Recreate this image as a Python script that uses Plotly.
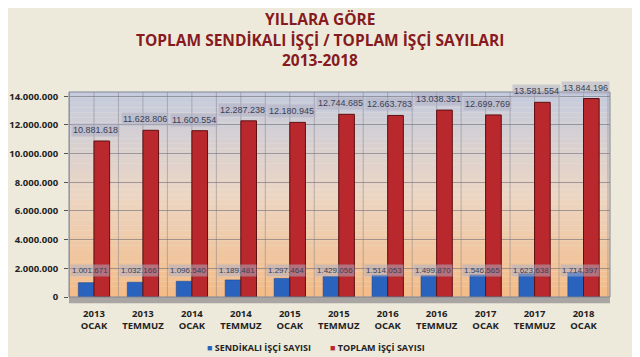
import plotly.graph_objects as go

categories = ["2013<br>OCAK", "2013<br>TEMMUZ", "2014<br>OCAK", "2014<br>TEMMUZ", "2015<br>OCAK",
              "2015<br>TEMMUZ", "2016<br>OCAK", "2016<br>TEMMUZ", "2017<br>OCAK", "2017<br>TEMMUZ",
              "2018<br>OCAK"]
sendikali = [1001671, 1032166, 1096540, 1189481, 1297464, 1429056, 1514053, 1499870, 1546565, 1623638, 1714397]
toplam = [10881618, 11628806, 11600554, 12287238, 12180945, 12744685, 12663783, 13038351, 12699769, 13581554, 13844196]
tick_vals = [0, 2000000, 4000000, 6000000, 8000000, 10000000, 12000000, 14000000]
series_names = ["SENDİKALI İŞÇİ SAYISI", "TOPLAM İŞÇİ SAYISI"]
title_lines = ["YILLARA GÖRE", "TOPLAM SENDİKALI İŞÇİ / TOPLAM İŞÇİ SAYILARI", "2013-2018"]

BLUE = "#2A63BE"
RED = "#B8282C"

def fmt(v):
    return f"{v:,}".replace(",", ".")

fig = go.Figure()
fig.add_bar(x=categories, y=sendikali, name=series_names[0], showlegend=False,
            marker=dict(color=BLUE, line=dict(color="#1A3F80", width=0.5)))
fig.add_bar(x=categories, y=toplam, name=series_names[1], showlegend=False,
            marker=dict(color=RED, line=dict(color="#5E0F12", width=1)))

# gradient plot background via bands
shapes = []
n = 40
top = (198, 204, 222)
mid = (236, 214, 196)
bot = (244, 188, 136)
for i in range(n):
    t = i / (n - 1)
    if t < 0.5:
        a, b, u = top, mid, t / 0.5
    else:
        a, b, u = mid, bot, (t - 0.5) / 0.5
    c = tuple(int(a[k] + (b[k] - a[k]) * u) for k in range(3))
    shapes.append(dict(type="rect", xref="paper", yref="paper", x0=0, x1=1,
                       y0=1 - (i + 1) / n, y1=1 - i / n, fillcolor=f"rgb{c}",
                       line=dict(width=0), layer="below"))
# vertical grid lines
for i in range(len(categories) + 1):
    for off in (-0.5, 0.0):
        xv = i + off
        if xv < -0.5 or xv > len(categories) - 0.5:
            continue
        shapes.append(dict(type="line", xref="x", yref="paper", x0=xv, x1=xv, y0=0, y1=1,
                           line=dict(color="rgba(120,120,130,0.45)", width=1), layer="below"))
# floor
shapes.append(dict(type="rect", xref="paper", yref="paper", x0=0, x1=1, y0=-0.03, y1=0,
                   fillcolor="#A9A5A2", line=dict(width=0)))
shapes.append(dict(type="rect", xref="paper", yref="paper", x0=0, x1=1, y0=0, y1=1,
                   fillcolor="rgba(0,0,0,0)", line=dict(color="#7F8696", width=1)))

annotations = []
for i, c in enumerate(categories):
    annotations.append(dict(x=c, y=toplam[i], text=fmt(toplam[i]), showarrow=False,
                            yanchor="bottom", yshift=4, xshift=2,
                            font=dict(size=9, color="#3A3F55", family="Liberation Sans"),
                            bgcolor="rgba(175,175,195,0.55)", borderpad=1))
    annotations.append(dict(x=c, y=1880000, text=fmt(sendikali[i]), showarrow=False,
                            yanchor="middle", xshift=-4,
                            font=dict(size=8, color="#3A3F55", family="Liberation Sans"),
                            bgcolor="rgba(175,175,195,0.55)", borderpad=1))

# title lines (plot area spans page pixels x 69..602, y 92..297)
for k, (line, ypx) in enumerate(zip(title_lines, [19.5, 39.5, 60])):
    annotations.append(dict(xref="paper", yref="paper", x=(316 - 69) / 533, y=(297 - ypx) / 205,
                            xanchor="center", yanchor="middle", showarrow=False, text=line,
                            font=dict(family="Open Sans", size=15.5, color="#861A20", weight="bold")))

# legend as text
leg_y = (297 - 347) / 205
annotations.append(dict(xref="paper", yref="paper", x=(203 - 69) / 533, y=leg_y, xanchor="left",
                        yanchor="middle", showarrow=False,
                        text=f"<span style='color:{BLUE}'>■</span> {series_names[0]}",
                        font=dict(family="Open Sans", size=9, color="#222", weight="bold")))
annotations.append(dict(xref="paper", yref="paper", x=(324 - 69) / 533, y=leg_y, xanchor="left",
                        yanchor="middle", showarrow=False,
                        text=f"<span style='color:{RED}'>■</span> {series_names[1]}",
                        font=dict(family="Open Sans", size=9, color="#222", weight="bold")))

# page body adds an 8px offset, so the figure is 8px smaller in each direction
fig.update_layout(
    width=632, height=349,
    margin=dict(l=61, r=30, t=84, b=60, autoexpand=False),
    paper_bgcolor="#EEEADB",
    plot_bgcolor="rgba(0,0,0,0)",
    separators=",.",
    barmode="group", bargap=0.36, bargroupgap=0,
    shapes=shapes,
    annotations=annotations,
    showlegend=False,
)
fig.update_xaxes(tickfont=dict(family="Open Sans", size=9.5, color="#222", weight="bold"),
                 showgrid=False, ticks="", showline=False, ticklabelstandoff=9)
fig.update_yaxes(range=[0, 14300000], tickvals=tick_vals, tickformat=",d",
                 tickfont=dict(family="Open Sans", size=9.5, color="#222", weight="bold"),
                 showgrid=True, gridcolor="rgba(110,110,120,0.6)", gridwidth=1,
                 zeroline=False, ticks="outside", ticklen=4, tickcolor="#555", ticklabelstandoff=4)

fig.write_html("out.html")
